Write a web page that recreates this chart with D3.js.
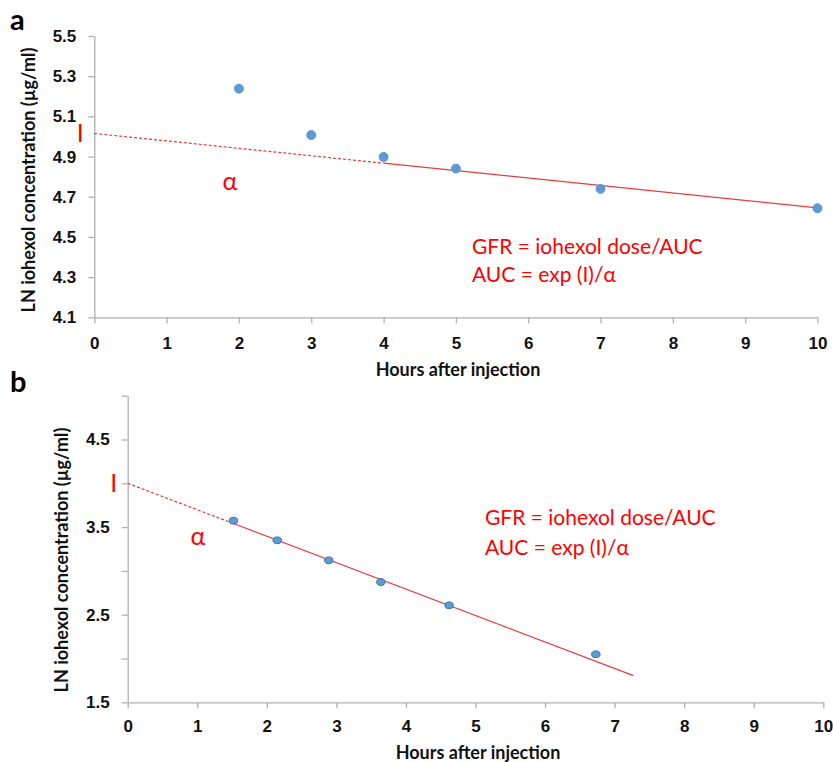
<!DOCTYPE html>
<html>
<head>
<meta charset="utf-8">
<script src="https://cdn.jsdelivr.net/npm/d3@7"></script>
<style>
  body { margin: 0; background: #fff; }
  svg { display: block; font-family: Lato, "Open Sans", sans-serif; }
  .axis path, .axis line { stroke: #b0b0b0; stroke-width: 1.3; }
  .axis text { font-size: 17px; font-weight: bold; fill: #111; }
  .title { font-size: 18px; font-weight: bold; fill: #111; }
  .note { fill: #f00; font-size: 21px; }
</style>
</head>
<body>
<svg id="chart" width="833" height="762"></svg>
<script>
// panel a
const hoursA = [2, 3, 4, 5, 7, 10];
const lnA = [5.238, 5.007, 4.898, 4.840, 4.739, 4.643];
const trendA = { intercept: 5.015, slope: -0.037, split: 4, end: 10 };
const yTicksA = [4.1, 4.3, 4.5, 4.7, 4.9, 5.1, 5.3, 5.5];

// panel b
const hoursB = [1.52, 2.15, 2.89, 3.64, 4.62, 6.73];
const lnB = [3.573, 3.349, 3.121, 2.873, 2.607, 2.048];
const trendB = { intercept: 4.0, slope: -0.302, split: 1.52, end: 7.27 };
const yTicksB = [1.5, 2.0, 2.5, 3.0, 3.5, 4.0, 4.5, 5.0];
const yLabelsB = [1.5, 2.5, 3.5, 4.5];

const xTicks = d3.range(0, 11);
const yTitle = "LN iohexol concentration (µg/ml)";
const xTitle = "Hours after injection";
const note1 = "GFR = iohexol dose/AUC";
const note2 = "AUC = exp (I)/α";

const svg = d3.select("#chart");

function panel(o) {
  const x = d3.scaleLinear().domain([0, 10]).range(o.xr);
  const y = d3.scaleLinear().domain(o.yd).range(o.yr);
  const g = svg.append("g");

  g.append("g")
    .attr("class", "axis")
    .attr("transform", `translate(0,${o.yr[0]})`)
    .call(d3.axisBottom(x).tickValues(xTicks).tickSize(6).tickSizeOuter(0).tickPadding(o.xPad).tickFormat(d3.format("d")));

  g.append("g")
    .attr("class", "axis")
    .attr("transform", `translate(${o.xr[0]},0)`)
    .call(d3.axisLeft(y).tickValues(o.yTicks).tickSize(6).tickSizeOuter(0).tickPadding(12)
      .tickFormat(d => o.yLabels.includes(d) ? d3.format(".1f")(d) : ""));

  const t = o.trend;
  const f = v => t.intercept + t.slope * v;
  g.append("line")
    .attr("x1", x(0)).attr("y1", y(f(0)))
    .attr("x2", x(t.split)).attr("y2", y(f(t.split)))
    .attr("stroke", "#e83c3c").attr("stroke-width", 1.2).attr("stroke-dasharray", "3,2");
  g.append("line")
    .attr("x1", x(t.split)).attr("y1", y(f(t.split)))
    .attr("x2", x(t.end)).attr("y2", y(f(t.end)))
    .attr("stroke", "#e83c3c").attr("stroke-width", 1.2);

  g.selectAll(".pt")
    .data(o.hours)
    .enter().append("ellipse")
    .attr("class", "pt")
    .attr("cx", d => x(d))
    .attr("cy", (d, i) => y(o.values[i]))
    .attr("rx", o.rx).attr("ry", o.ry)
    .attr("fill", "#5b9bd5")
    .attr("stroke", o.outline)
    .attr("stroke-width", 1);

  // intercept marker and slope symbol
  g.append("text")
    .attr("x", o.xr[0] - 14).attr("y", y(t.intercept))
    .attr("dy", "0.36em")
    .attr("text-anchor", "middle")
    .attr("fill", "#f00").attr("font-size", 25)
    .text("I");
  g.append("text")
    .attr("x", o.alpha[0]).attr("y", o.alpha[1])
    .attr("text-anchor", "middle")
    .attr("fill", "#f00").attr("font-size", 25)
    .text("α");

  g.append("text").attr("class", "note").attr("x", o.note[0]).attr("y", o.note[1]).text(note1);
  g.append("text").attr("class", "note").attr("x", o.note[0]).attr("y", o.note[1] + o.noteGap).text(note2);

  g.append("text")
    .attr("class", "title")
    .attr("text-anchor", "middle")
    .attr("transform", `translate(${o.yTitleX},${o.yTitleY}) rotate(-90)`)
    .attr("dy", "0.35em")
    .text(yTitle);
  g.append("text")
    .attr("class", "title")
    .attr("text-anchor", "middle")
    .attr("x", o.xTitle[0]).attr("y", o.xTitle[1])
    .text(xTitle);

  svg.append("text")
    .attr("x", o.label[0]).attr("y", o.label[1])
    .attr("font-size", 29).attr("font-weight", "bold").attr("fill", "#000")
    .text(o.name);
}

panel({
  name: "a", label: [10, 30],
  xr: [94.3, 817.5], yd: [4.1, 5.5], yr: [317.3, 36],
  yTicks: yTicksA, yLabels: yTicksA, xPad: 14,
  hours: hoursA, values: lnA, trend: trendA, rx: 4.5, ry: 4.5, outline: "#5b9bd5",
  alpha: [230, 190], note: [472, 254], noteGap: 28,
  yTitleX: 29, yTitleY: 180, xTitle: [458, 376]
});

panel({
  name: "b", label: [10, 392],
  xr: [127.7, 823.3], yd: [1.5, 5.0], yr: [702.3, 395.7],
  yTicks: yTicksB, yLabels: yLabelsB, xPad: 12,
  hours: hoursB, values: lnB, trend: trendB, rx: 4.2, ry: 3.4, outline: "#41719c",
  alpha: [198, 545], note: [485, 525], noteGap: 30,
  yTitleX: 62, yTitleY: 560, xTitle: [478, 759]
});
</script>
</body>
</html>
